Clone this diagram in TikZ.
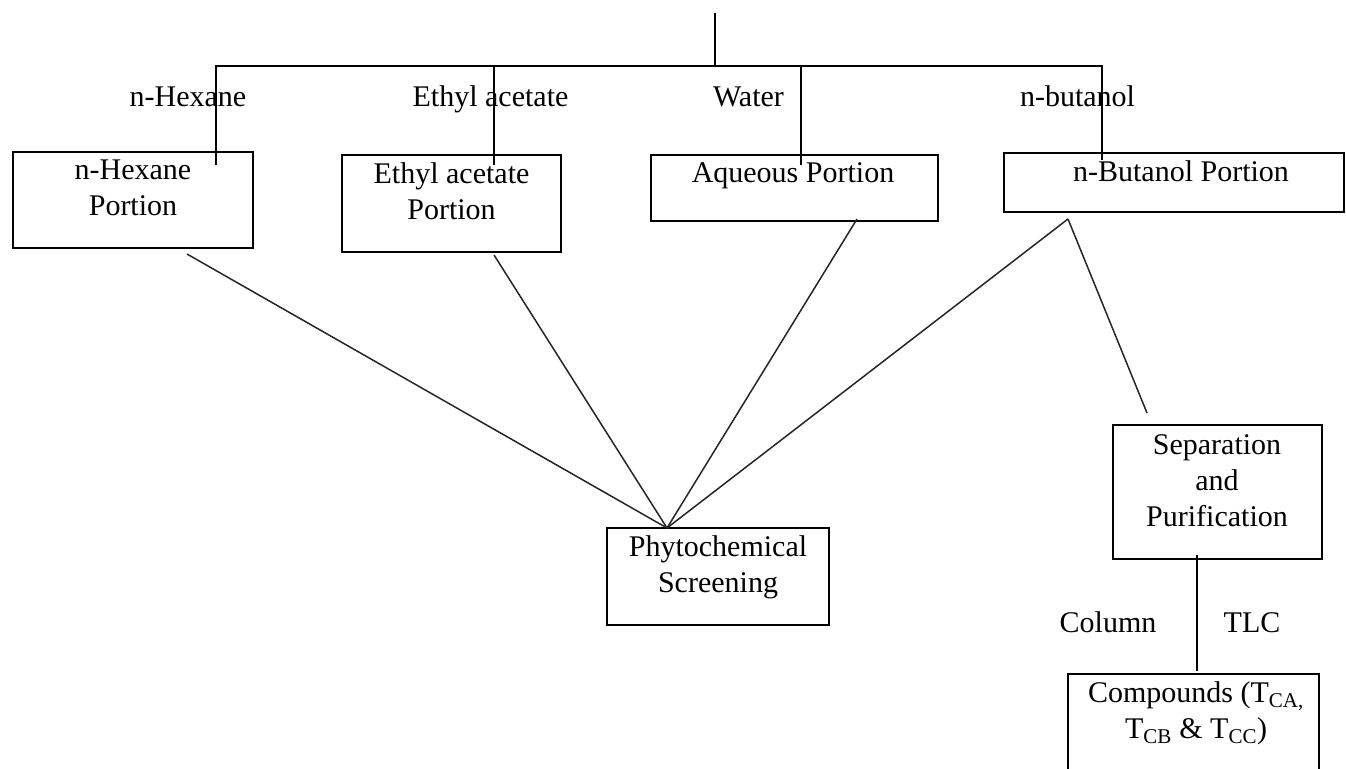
\documentclass[tikz,border=0pt]{standalone}
\usepackage{fontspec}
\setmainfont{Liberation Serif}
\begin{document}
\begin{tikzpicture}[x=1pt,y=-1pt,
  box/.style={draw, line width=1.6pt, inner sep=0pt, outer sep=0pt},
  txt/.style={inner sep=0pt, outer sep=0pt, align=center, anchor=base, font=\fontsize{30}{36}\selectfont},
  con/.style={line width=1.6pt},
  diag/.style={line width=1.5pt, draw=black!85}]
\useasboundingbox (0,0) rectangle (1346,768);
\clip (0,0) rectangle (1346,768);
\fill[white] (0,0) rectangle (1346,768);
% boxes
\node[box, minimum width=240pt, minimum height=96pt] (hex) at (133,200) {};
\node[box, minimum width=219pt, minimum height=97pt] (eth) at (451.5,203.5) {};
\node[box, minimum width=287pt, minimum height=66pt] (aq) at (794.5,188) {};
\node[box, minimum width=340pt, minimum height=59pt] (but) at (1174,182.5) {};
\node[box, minimum width=222pt, minimum height=97pt] (phy) at (718,576.5) {};
\node[box, minimum width=209pt, minimum height=134pt] (sep) at (1217.5,492) {};
\node[box, minimum width=251pt, minimum height=116pt] (cmp) at (1193.5,732) {};
% box texts (base anchor = baseline of the last line)
\node[txt] (hext) at (133,215) {n-Hexane\\Portion};
\node[txt] (etht) at (451.5,219) {Ethyl acetate\\Portion};
\node[txt] (aqt) at (793,182) {Aqueous Portion};
\node[txt] (butt) at (1181,181) {n-Butanol Portion};
\node[txt] (phyt) at (718,592) {Phytochemical\\Screening};
\node[txt] (sept) at (1217,526) {Separation\\and\\Purification};
\node[txt] (cmpt) at (1196,738) {Compounds (T\textsubscript{CA,}\\T\textsubscript{CB} \& T\textsubscript{CC})};
% solvent labels
\node[txt] (lhex) at (188,106) {n-Hexane};
\node[txt] (leth) at (490.5,106) {Ethyl acetate};
\node[txt] (lwat) at (748.5,106) {Water};
\node[txt] (lbut) at (1077.5,106) {n-butanol};
\node[txt] (lcol) at (1108,632) {Column};
\node[txt] (ltlc) at (1252,632) {TLC};
% tree connector coordinates
\coordinate (top) at (715,13);
\coordinate (jT) at (715,66);
\coordinate (jL) at (216,66);
\coordinate (jE) at (494,66);
\coordinate (jW) at (801,66);
\coordinate (jR) at (1102,66);
\coordinate (eH) at (216,165);
\coordinate (eE) at (494,165);
\coordinate (eW) at (801,165);
\coordinate (eB) at (1102,160);
\draw[con] (top) -- (jT);
\draw[con] (eH) -- (jL) -- (jR) -- (eB);
\draw[con] (jE) -- (eE);
\draw[con] (jW) -- (eW);
% diagonal connectors
\coordinate (sH) at (187,254);
\coordinate (sE) at (494,255);
\coordinate (sA) at (857,219);
\coordinate (sB) at (1068,219);
\coordinate (pT) at (667,528);
\coordinate (sS) at (1147,413);
\draw[diag] (sH) -- (pT);
\draw[diag] (sE) -- (pT);
\draw[diag] (sA) -- (pT);
\draw[diag] (sB) -- (pT);
\draw[diag] (sB) -- (sS);
% separation to compounds
\coordinate (vS) at (1197,555);
\coordinate (vC) at (1197,671);
\draw[con] (vS) -- (vC);
\end{tikzpicture}
\end{document}
